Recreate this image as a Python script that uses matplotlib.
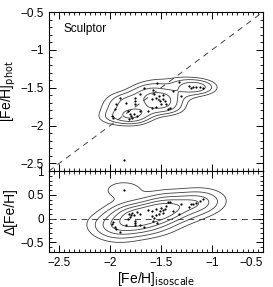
import numpy as np
import matplotlib
matplotlib.use("Agg")
import matplotlib.pyplot as plt
from matplotlib.ticker import MultipleLocator, FuncFormatter

# [Fe/H] from isoscale (x) and from photometry (y)
feh_iso = [-1.535, -1.322, -1.224, -1.185, -1.152, -1.120, -1.201, -1.087,
           -1.669, -1.708, -1.757, -1.757, -1.757, -1.577, -1.571, -1.593,
           -1.544, -1.518, -1.479, -1.479, -1.512, -1.463, -1.446, -1.414,
           -1.430, -1.544, -1.593, -1.626, -1.495, -1.937, -1.953, -1.976,
           -1.969, -1.904, -1.839, -1.822, -1.806, -1.799, -1.780, -1.812,
           -1.767, -1.734, -1.708, -1.381, -1.299, -1.865]
feh_phot = [-1.438, -1.420, -1.473, -1.487, -1.487, -1.487, -1.504, -1.504,
            -1.504, -1.576, -1.629, -1.673, -1.718, -1.531, -1.584, -1.651,
            -1.629, -1.607, -1.598, -1.651, -1.673, -1.673, -1.718, -1.762,
            -1.784, -1.753, -1.762, -1.807, -1.718, -1.718, -1.784, -1.873,
            -1.904, -1.629, -1.696, -1.807, -1.851, -1.873, -1.896, -1.918,
            -1.851, -1.873, -1.807, -1.540, -1.607, -2.460]
xticks = [-2.5, -2.0, -1.5, -1.0, -0.5]

x = np.array(feh_iso)
yp = np.array(feh_phot)
dfeh = x - yp

plt.rcParams['font.family'] = ['Liberation Sans', 'DejaVu Sans']
plt.rcParams['font.size'] = 8.5
plt.rcParams['axes.linewidth'] = 0.8


def kde(px, py, gx, gy, bx, by):
    X, Y = np.meshgrid(gx, gy)
    Z = np.zeros_like(X)
    for a, b in zip(px, py):
        Z += np.exp(-0.5 * (((X - a) / bx) ** 2 + ((Y - b) / by) ** 2))
    return X, Y, Z


def style(ax):
    ax.tick_params(which='both', direction='in', top=True, right=True)
    ax.tick_params(which='major', length=5, width=0.7)
    ax.tick_params(which='minor', length=2.5, width=0.6)
    ax.set_xticks(xticks)
    ax.xaxis.set_minor_locator(MultipleLocator(0.05))


fmt = FuncFormatter(lambda v, p: ('%g' % v).replace('-', '\u2212'))

fig = plt.figure(figsize=(2.73, 2.87), dpi=100)
ax1 = fig.add_axes([0.179, 0.404, 0.784, 0.554])
ax2 = fig.add_axes([0.179, 0.122, 0.784, 0.282], sharex=ax1)

gx = np.linspace(-2.6, -0.5, 300)
gy = np.linspace(-2.6, -0.5, 300)
X, Y, Z = kde(x, yp, gx, gy, 0.11, 0.065)
ax1.contour(X, Y, Z, levels=[1.15, 2.3, 4.0, 6.5, 9.0], colors='#404040',
            linewidths=0.6)
ax1.plot([-2.6, -0.5], [-2.6, -0.5], ls=(0, (6, 5)), color='#444444', lw=0.7)
ax1.plot(x, yp, 'o', ms=1.6, color='black', mec='none')
ax1.set_xlim(-2.6, -0.5)
ax1.set_ylim(-2.6, -0.5)
style(ax1)
ax1.yaxis.set_major_locator(MultipleLocator(0.5))
ax1.yaxis.set_minor_locator(MultipleLocator(0.1))
ax1.yaxis.set_major_formatter(fmt)
plt.setp(ax1.get_xticklabels(), visible=False)
ax1.set_ylabel('[Fe/H]$_{\\rm phot}$', fontsize=10, labelpad=2)
ax1.text(0.07, 0.93, 'Sculptor', transform=ax1.transAxes, fontsize=8.5,
         va='top')

gy2 = np.linspace(-0.7, 1.0, 250)
X2, Y2, Z2 = kde(x, dfeh, gx, gy2, 0.13, 0.135)
ax2.contour(X2, Y2, Z2, levels=[0.5, 1.6, 3.5, 6.0, 9.0], colors='#404040',
            linewidths=0.6)
ax2.axhline(0, ls=(0, (6, 5)), color='#444444', lw=0.7)
ax2.plot(x, dfeh, 'o', ms=1.6, color='black', mec='none')
ax2.set_ylim(-0.7, 1.0)
style(ax2)
ax2.yaxis.set_major_locator(MultipleLocator(0.5))
ax2.yaxis.set_minor_locator(MultipleLocator(0.1))
ax2.yaxis.set_major_formatter(fmt)
ax2.xaxis.set_major_formatter(fmt)
ax2.xaxis.get_major_ticks()[-1].label1.set_horizontalalignment('right')
ax2.set_xlabel('[Fe/H]$_{\\rm isoscale}$', fontsize=10, labelpad=1)
ax2.set_ylabel('\u0394[Fe/H]', fontsize=10, labelpad=2)

fig.savefig('out.png', dpi=100)
